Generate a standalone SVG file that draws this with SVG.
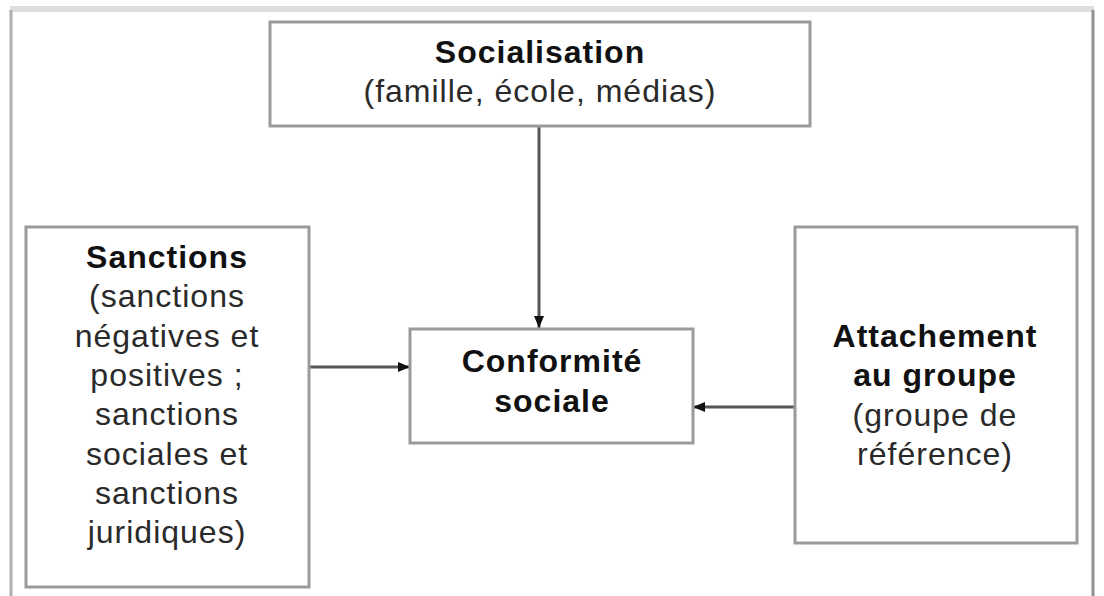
<svg xmlns="http://www.w3.org/2000/svg" width="1104" height="596" viewBox="0 0 1104 596">
  <style>
    .box { fill: #ffffff; stroke: #9a9a9a; stroke-width: 3; }
    .t { font-family: "Liberation Sans", Arial, sans-serif; font-size: 32px; letter-spacing: 1px; text-anchor: middle; }
    .title { font-weight: bold; fill: #111111; }
    .sub { fill: #2a2a2a; }
    .conn { stroke: #555555; stroke-width: 3; fill: none; }
  </style>
  <defs>
    <marker id="arrow" viewBox="0 0 12 10" refX="12" refY="5" markerWidth="12" markerHeight="10" markerUnits="userSpaceOnUse" orient="auto">
      <path d="M0,0 L12,5 L0,10 Z" fill="#111111"/>
    </marker>
  </defs>
  <rect x="0" y="0" width="1104" height="596" fill="#ffffff"/>
  <g id="frame">
    <line x1="10" y1="9" x2="1094" y2="9" stroke="#dedede" stroke-width="6"/>
    <line x1="11" y1="10" x2="11" y2="596" stroke="#b0b0b0" stroke-width="3"/>
    <line x1="1093" y1="10" x2="1093" y2="596" stroke="#909090" stroke-width="3"/>
  </g>
  <g id="connectors">
    <line class="conn" x1="539" y1="127" x2="539" y2="328" marker-end="url(#arrow)"/>
    <line class="conn" x1="309" y1="367" x2="410" y2="367" marker-end="url(#arrow)"/>
    <line class="conn" x1="794" y1="407" x2="693" y2="407" marker-end="url(#arrow)"/>
  </g>
  <g id="socialisation">
    <rect class="box" x="270" y="22" width="540" height="104"/>
    <text class="t title" x="540" y="63">Socialisation</text>
    <text class="t sub" x="540" y="102">(famille, école, médias)</text>
  </g>
  <g id="sanctions">
    <rect class="box" x="26" y="227" width="283" height="360"/>
    <text class="t title" x="167" y="268">Sanctions</text>
    <text class="t sub" x="167" y="307">(sanctions</text>
    <text class="t sub" x="167" y="347">négatives et</text>
    <text class="t sub" x="167" y="386">positives ;</text>
    <text class="t sub" x="167" y="425">sanctions</text>
    <text class="t sub" x="167" y="465">sociales et</text>
    <text class="t sub" x="167" y="504">sanctions</text>
    <text class="t sub" x="167" y="543">juridiques)</text>
  </g>
  <g id="conformite">
    <rect class="box" x="410" y="329" width="283" height="114"/>
    <text class="t title" x="552" y="372">Conformité</text>
    <text class="t title" x="552" y="412">sociale</text>
  </g>
  <g id="attachement">
    <rect class="box" x="795" y="227" width="282" height="316"/>
    <text class="t title" x="935" y="347">Attachement</text>
    <text class="t title" x="935" y="386">au groupe</text>
    <text class="t sub" x="935" y="426">(groupe de</text>
    <text class="t sub" x="935" y="465">référence)</text>
  </g>
</svg>
